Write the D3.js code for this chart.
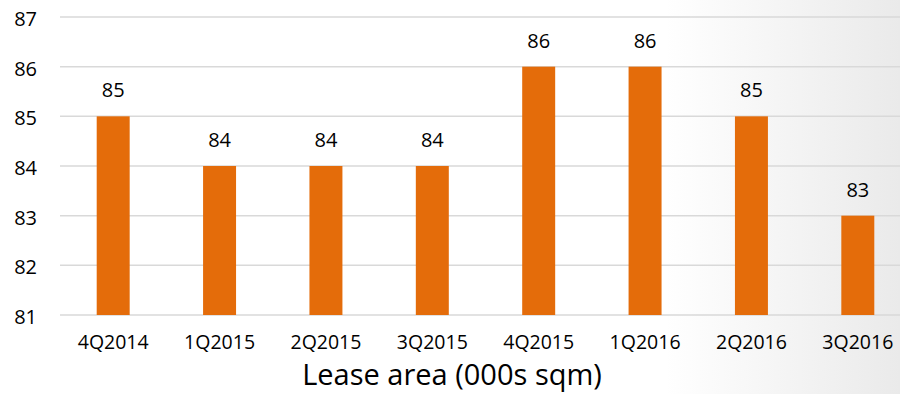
<!DOCTYPE html>
<html><head><meta charset="utf-8">
<script src="https://cdn.jsdelivr.net/npm/d3@7"></script>
<style>html,body{margin:0;padding:0;background:#fff;}svg{display:block;}</style>
</head><body>
<svg id="chart" width="900" height="394"></svg>
<script>
const categories = ["4Q2014","1Q2015","2Q2015","3Q2015","4Q2015","1Q2016","2Q2016","3Q2016"];
const values = [85,84,84,84,86,86,85,83];
const yTicks = [81,82,83,84,85,86,87];
const title = "Lease area (000s sqm)";

const svg = d3.select("#chart");
const W = 900, H = 394;
const defs = svg.append("defs");
const grad = defs.append("linearGradient").attr("id","bg").attr("x1","0").attr("x2","1").attr("y1","0").attr("y2","0");
grad.append("stop").attr("offset","0.74").attr("stop-color","#ffffff");
grad.append("stop").attr("offset","1").attr("stop-color","#eaeaea");
svg.append("rect").attr("width",W).attr("height",H).attr("fill","url(#bg)");

const x = d3.scaleBand().domain(categories).range([60, 911]).paddingInner(0.69).paddingOuter(0.345);
const y = d3.scaleLinear().domain([81,87]).range([315, 17]);
const font = "'Open Sans', sans-serif";

svg.append("g").selectAll("line").data(yTicks).join("line")
  .attr("x1",60).attr("x2",W).attr("y1",d=>y(d)).attr("y2",d=>y(d))
  .attr("stroke","#d9d9d9").attr("stroke-width",1.5);

const yAxis = d3.axisLeft(y).tickValues(yTicks).tickSize(0).tickPadding(0).tickFormat(d3.format("d"));
const gy = svg.append("g").attr("transform","translate(37,0)").call(yAxis);
gy.select(".domain").remove();
gy.selectAll("text").attr("font-family",font).attr("font-size",20).attr("fill","#000").attr("dy","0.42em");

svg.append("g").selectAll("rect").data(values).join("rect")
  .attr("x",(d,i)=>x(categories[i])).attr("width",x.bandwidth())
  .attr("y",d=>y(d)).attr("height",d=>y(81)-y(d)).attr("fill","#e46c0a");

svg.append("g").selectAll("text").data(values).join("text")
  .attr("x",(d,i)=>x(categories[i])+x.bandwidth()/2).attr("y",d=>y(d)-19)
  .attr("text-anchor","middle").attr("font-family",font).attr("font-size",20).attr("fill","#000")
  .text(d=>d);

const xAxis = d3.axisBottom(x).tickSize(0).tickPadding(0);
const gx = svg.append("g").attr("transform","translate(0,335)").call(xAxis);
gx.select(".domain").remove();
gx.selectAll("text").attr("font-family",font).attr("font-size",19.5).attr("fill","#000").attr("dy","0.71em");

svg.append("text").attr("x",452).attr("y",385).attr("text-anchor","middle")
  .attr("font-family",font).attr("font-size",29).attr("fill","#000").text(title);
</script>
</body></html>
